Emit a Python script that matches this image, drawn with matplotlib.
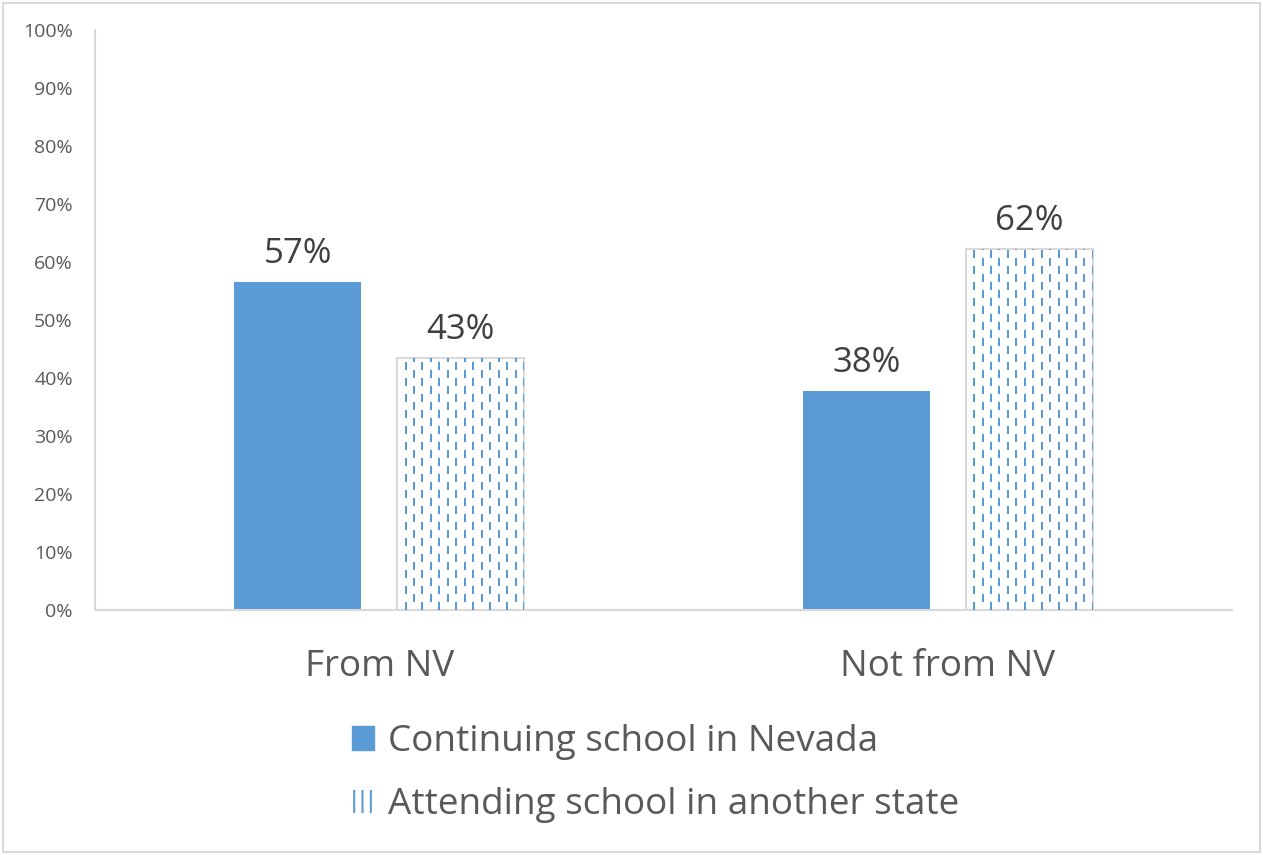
import numpy as np
import matplotlib
matplotlib.use('Agg')
import matplotlib.pyplot as plt
from matplotlib.patches import Patch

plt.rcParams['font.family'] = ['Open Sans', 'DejaVu Sans']
plt.rcParams['lines.scale_dashes'] = False

# Chart data
categories = ['From NV', 'Not from NV']
series_names = ['Continuing school in Nevada', 'Attending school in another state']
in_nevada = [56.6, 37.7]
other_state = [43.4, 62.3]
y_ticks = list(range(0, 101, 10))

blue = '#5B9BD5'
text_col = '#595959'
line_col = '#D9D9D9'

fig = plt.figure(figsize=(12.63, 8.55), dpi=100)
ax = fig.add_axes([0.0752, 0.2865, 0.9003, 0.6784])

x = np.arange(len(categories))
w = 0.2234
off = 0.1430

bars1 = ax.bar(x - off, in_nevada, w, color=blue, zorder=2)
bars2 = ax.bar(x + off, other_state, w, facecolor='white', edgecolor=line_col,
               linewidth=1.5, zorder=2)

ax.set_xlim(-0.5, 1.5)
ax.set_ylim(0, 100)

# dashed vertical pattern, clipped to each hatched bar
px = 72.0 / fig.dpi  # points per pixel
for b in bars2:
    x0, x1 = b.get_x(), b.get_x() + b.get_width()
    xa = ax.transData.transform([(x0, 0), (x1, 0)])
    n = int((xa[1][0] - xa[0][0]) / 8)
    xs = np.linspace(x0, x1, n + 1)[1:]
    for i, xv in enumerate(xs):
        ln, = ax.plot([xv, xv], [0, b.get_height()], color=blue, lw=2 * px, zorder=3,
                      linestyle=((i % 2) * 8 * px, (8 * px, 8 * px)),
                      dash_capstyle='butt')
        ln.set_clip_path(b)

for bars, vals in [(bars1, in_nevada), (bars2, other_state)]:
    for b, v in zip(bars, vals):
        ax.annotate(f'{v:.0f}%', (b.get_x() + b.get_width() / 2, v),
                    xytext=(0, 8), textcoords='offset points', ha='center',
                    va='bottom', fontsize=25, color='#404040')

ax.set_yticks(y_ticks)
ax.set_yticklabels([f'{t}%' for t in y_ticks])
ax.set_xticks(x)
ax.set_xticklabels(categories)
ax.tick_params(axis='y', length=0, pad=16, labelsize=14, labelcolor=text_col)
ax.tick_params(axis='x', length=0, pad=28, labelsize=26.5, labelcolor=text_col)

for s in ['top', 'right']:
    ax.spines[s].set_visible(False)
for s in ['left', 'bottom']:
    ax.spines[s].set_color(line_col)
    ax.spines[s].set_linewidth(1.5)

plt.rcParams['hatch.linewidth'] = 1.5
handles = [Patch(facecolor=blue, edgecolor=blue),
           Patch(facecolor='white', edgecolor=blue, hatch='||', linewidth=0)]
leg = fig.legend(handles, series_names, loc='upper left', bbox_to_anchor=(0.252, 0.192),
                 frameon=False, fontsize=26.6, handlelength=0.6, handleheight=0.6,
                 handletextpad=0.4, labelspacing=0.74, labelcolor=text_col)

# outer chart border
fig.patches.append(plt.Rectangle((0.002, 0.003), 0.996, 0.994, transform=fig.transFigure,
                                 fill=False, edgecolor=line_col, linewidth=1.5))

fig.savefig('out.png', dpi=100)
